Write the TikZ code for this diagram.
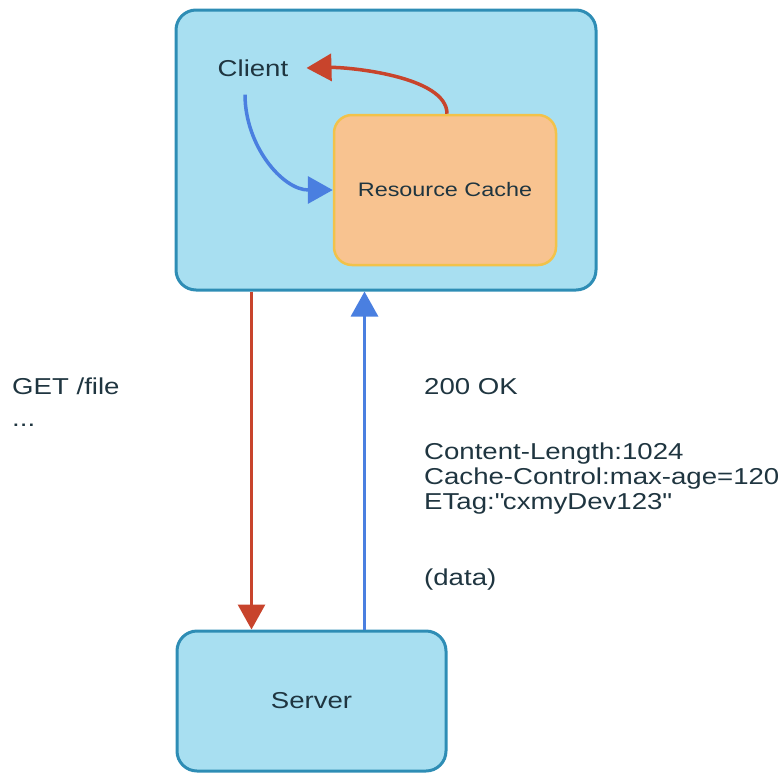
\documentclass[tikz,border=0pt]{standalone}
\usepackage{fontspec}
\setmainfont{Liberation Sans}[FakeStretch=1.2]
\usetikzlibrary{arrows.meta}

\definecolor{boxblue}{HTML}{A8DFF1}
\definecolor{edgeblue}{HTML}{2E8DB5}
\definecolor{cacheorange}{HTML}{F8C390}
\definecolor{cacheedge}{HTML}{F2C24A}
\definecolor{reqred}{HTML}{C8442C}
\definecolor{resblue}{HTML}{4A7FE0}
\definecolor{inktext}{HTML}{1F3540}

\tikzset{
    hostbox/.style={draw=edgeblue, fill=boxblue, line width=3pt, rounded corners=20pt,
        text=inktext, font=\fontsize{23}{25}\selectfont},
    cachebox/.style={draw=cacheedge, fill=cacheorange, line width=2.5pt, rounded corners=18pt,
        minimum width=222pt, minimum height=150pt, text=inktext, font=\fontsize{19.5}{22}\selectfont},
    bigtip/.style={-{Triangle[length=25pt,width=27pt]}},
    reqline/.style={draw=reqred, line width=3pt, bigtip},
    resline/.style={draw=resblue, line width=3pt, bigtip},
    msg/.style={font=\fontsize{23}{25}\selectfont, text=inktext, inner sep=0pt, align=left}
}

\begin{document}
\begin{tikzpicture}[x=1pt, y=-1pt]
    \useasboundingbox (0,0) rectangle (782,772);

    % the two hosts
    \node[hostbox, minimum width=420pt, minimum height=280pt] (host) at (386,150) {};
    \node[hostbox, minimum width=269pt, minimum height=140pt] (server) at (311.5,701) {Server};

    % inside the client host
    \node[msg, inner sep=18pt] (client) at (253,68) {Client};
    \node[cachebox] (cache) at (445,190) {Resource Cache};

    \draw[reqline, line width=3.5pt] ([xshift=2pt]cache.north) .. controls +(0,-38) and +(40,-1) .. (client.east);
    \draw[resline, line width=3.5pt] ([xshift=-8pt]client.south) to[out=-90, in=180] (cache.west);

    % request and response
    \draw[reqline] ([xshift=77pt]host.south west) -- ([xshift=76pt]server.north west);
    \draw[resline] ([xshift=189pt]server.north west) -- ([xshift=190pt]host.south west);

    \node[msg, anchor=base west] (get) at (12,426) {GET /file\\[7pt]...};
    \node[msg, anchor=base west] (ok) at (424,394) {200 OK};
    \node[msg, anchor=base west] (headers) at ([yshift=-115pt]ok.base west)
        {Content-Length:1024\\Cache-Control:max-age=120\\ETag:\textquotedbl cxmyDev123\textquotedbl};
    \node[msg, anchor=base west] (data) at (424,585) {(data)};
\end{tikzpicture}
\end{document}
